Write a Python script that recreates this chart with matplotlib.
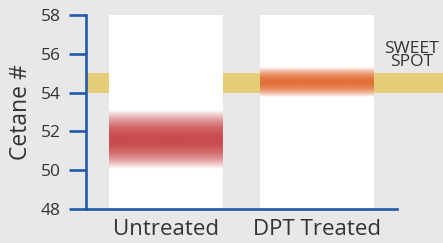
import numpy as np
import matplotlib
matplotlib.use("Agg")
import matplotlib.pyplot as plt
from matplotlib.colors import to_rgb

plt.rcParams['font.family'] = ['Open Sans', 'DejaVu Sans']

# data
categories = ["Untreated", "DPT Treated"]
centers = [51.55, 54.5]      # middle of cetane range
spreads = [1.5, 0.75]        # half height of the fuzzy band
colors = ["#c94a4c", "#e2703a"]
sweet_spot = (54.0, 55.0)
y_ticks = [48, 50, 52, 54, 56, 58]

axis_blue = "#1f5aa6"
text_col = "#333333"

fig = plt.figure(figsize=(4.43, 2.43), dpi=100, facecolor="#e8e8e8")
ax = fig.add_axes([0.194, 0.140, 0.702, 0.798])
ax.set_facecolor("none")

x = np.arange(len(categories))
width = 0.755

# sweet spot band, runs out past the axes to the figure edge
ax.axhspan(sweet_spot[0], sweet_spot[1], xmin=0, xmax=1.148,
           color="#e5cd78", zorder=1, clip_on=False, lw=0)

# white columns
ax.bar(x, 10, bottom=48, width=width, color="white", zorder=2)

# fuzzy bands
for xi, c, s, col in zip(x, centers, spreads, colors):
    ys = np.linspace(c - s, c + s, 200)
    d = np.abs(ys - c) / s
    alpha = np.clip(1 - d ** 2.0, 0, 1)
    img = np.zeros((len(ys), 2, 4))
    img[..., :3] = to_rgb(col)
    img[..., 3] = alpha[:, None]
    ax.imshow(img, extent=[xi - width / 2, xi + width / 2, c - s, c + s],
              origin="lower", aspect="auto", zorder=3, interpolation="bilinear")

ax.set_xlim(-0.53, 1.53)
ax.set_ylim(48, 58)

for side in ["top", "right"]:
    ax.spines[side].set_visible(False)
for side in ["left", "bottom"]:
    ax.spines[side].set_color(axis_blue)
    ax.spines[side].set_linewidth(1.9)
    ax.spines[side].set_zorder(5)

ax.set_yticks(y_ticks)
ax.tick_params(axis="y", length=12, width=1.9, color=axis_blue, pad=6,
               labelsize=12.5, labelcolor=text_col)
ax.set_xticks(x)
ax.set_xticklabels(categories)
ax.tick_params(axis="x", length=0, pad=7, labelsize=16, labelcolor=text_col)
ax.set_ylabel("Cetane #", fontsize=16.5, color=text_col, labelpad=6)

ax.text(1.048, 55.15, "SWEET\nSPOT", transform=ax.get_yaxis_transform(),
        ha="center", va="bottom", fontsize=12.5, color=text_col,
        linespacing=0.78, clip_on=False)

fig.savefig("out.png", dpi=100, facecolor=fig.get_facecolor())
